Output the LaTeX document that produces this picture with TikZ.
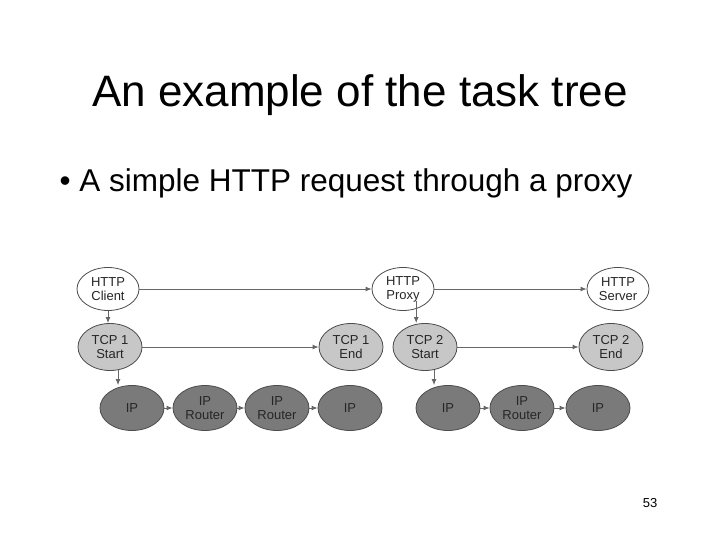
\documentclass[tikz,border=0pt]{standalone}
\usepackage{fontspec}
\setmainfont{Liberation Sans}
\usetikzlibrary{shapes.geometric,arrows.meta}
\begin{document}
\begin{tikzpicture}[x=1pt,y=-1pt,
 el/.style={ellipse,draw=black!70,line width=0.8pt,minimum width=62pt,minimum height=43pt,inner sep=0pt,align=center,font=\fontsize{13}{14}\selectfont,text=black!85},
 w/.style={el,fill=white},
 g/.style={el,fill=black!22},
 d/.style={el,fill=black!52},
 ar/.style={draw=black!60,line width=0.9pt,-{Latex[length=6pt,width=5pt]}}]
\useasboundingbox (0,0) rectangle (720,540);
\node[font=\fontsize{44}{46}\selectfont] (title) at (360,95) {An example of the task tree};
\node[font=\fontsize{31.5}{34}\selectfont,anchor=west] (bul) at (56,183) {\textbullet\ A simple HTTP request through a proxy};
\node[font=\fontsize{13}{14}\selectfont] (num) at (650,503) {53};
\node[w] (hc) at (108,289) {HTTP\\Client};
\node[w] (hp) at (403,289) {HTTP\\Proxy};
\node[w] (hs) at (618,289) {HTTP\\Server};
\node[g,minimum width=64pt,minimum height=47pt] (t1s) at (110,347) {TCP 1\\Start};
\node[g,minimum width=64pt,minimum height=47pt] (t1e) at (351,347) {TCP 1\\End};
\node[g,minimum width=64pt,minimum height=47pt] (t2s) at (425,347) {TCP 2\\Start};
\node[g,minimum width=64pt,minimum height=47pt] (t2e) at (611,347) {TCP 2\\End};
\node[d,minimum width=64pt,minimum height=45pt] (a1) at (132,408) {IP};
\node[d,minimum width=64pt,minimum height=45pt] (a2) at (205,408) {IP\\Router};
\node[d,minimum width=64pt,minimum height=45pt] (a3) at (277,408) {IP\\Router};
\node[d,minimum width=64pt,minimum height=45pt] (a4) at (350,408) {IP};
\node[d,minimum width=64pt,minimum height=45pt] (b1) at (448,408) {IP};
\node[d,minimum width=64pt,minimum height=45pt] (b2) at (522,408) {IP\\Router};
\node[d,minimum width=64pt,minimum height=45pt] (b3) at (598,408) {IP};
\draw[ar] (hc) -- (hp);
\draw[ar] (hp) -- (hs);
\draw[ar] (hc.south) -- (t1s.north -| hc.south);
\draw[ar] (hp.south east) ++(-9,-3) coordinate (pp) -- (pp |- t2s.north);
\draw[ar] (t1s) -- (t1e);
\draw[ar] (t2s) -- (t2e);
\draw[ar] (t1s.south) ++(8,-1) coordinate (q1) -- (q1 |- a1.north);
\draw[ar] (t2s.south) ++(9,-1) coordinate (q2) -- (q2 |- b1.north);
\draw[ar] (a1) -- (a2); \draw[ar] (a2) -- (a3); \draw[ar] (a3) -- (a4);
\draw[ar] (b1) -- (b2); \draw[ar] (b2) -- (b3);
\end{tikzpicture}
\end{document}
